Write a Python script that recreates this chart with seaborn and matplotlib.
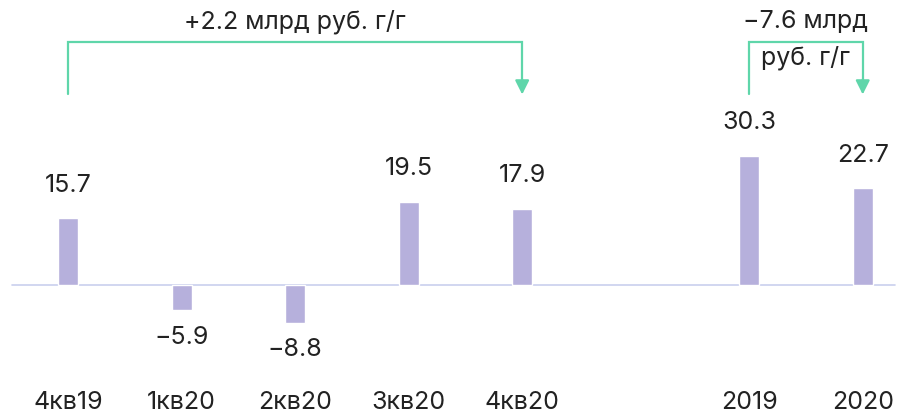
import matplotlib
matplotlib.use("Agg")
import matplotlib.pyplot as plt
import seaborn as sns
import pandas as pd

# data
periods = ["4кв19", "1кв20", "2кв20", "3кв20", "4кв20", "2019", "2020"]
values = [15.7, -5.9, -8.8, 19.5, 17.9, 30.3, 22.7]
slot_order = ["4кв19", "1кв20", "2кв20", "3кв20", "4кв20", "", "2019", "2020"]
brackets = [
    ("4кв19", "4кв20", "+2.2 млрд руб. г/г"),
    ("2019", "2020", "−7.6 млрд\nруб. г/г"),
]

BAR = "#b6b0dc"
ARROW = "#5fd6aa"
TEXT = "#222222"
FS = 18

sns.set_theme(style="white")
plt.rcParams["font.family"] = ["Inter", "DejaVu Sans"]

df = pd.DataFrame({"period": periods, "value": values})

fig = plt.figure(figsize=(9.07, 4.18), dpi=100)
ax = fig.add_axes([0, 0.1, 1, 0.9])

sns.barplot(data=df, x="period", y="value", order=slot_order, color=BAR,
            width=0.175, saturation=1, ax=ax)

ax.set_xlim(-0.6, 7.39)
ax.set_ylim(-21.3, 66.7)
ax.axhline(0, xmin=0.013, xmax=0.987, color="#c9d0ee", lw=1.2, zorder=0)

for s in ax.spines.values():
    s.set_visible(False)
ax.set_yticks([])
ax.set_xlabel("")
ax.set_ylabel("")
ax.tick_params(axis="x", length=0, pad=11, labelsize=FS, labelcolor=TEXT)

# value labels
for i, (p, v) in enumerate(zip(periods, values)):
    x = slot_order.index(p)
    off = 33 if v >= 0 else -27
    ax.annotate(f"{v:.1f}".replace("-", "−"), (x, v), xytext=(0, off),
                textcoords="offset pixels", ha="center", va="center",
                fontsize=FS, color=TEXT)

# change brackets
y_top, y_low = 56.9, 44.6
for a, b, label in brackets:
    xa, xb = slot_order.index(a), slot_order.index(b)
    ax.plot([xa, xa, xb, xb], [y_low, y_top, y_top, y_low + 3], color=ARROW,
            lw=1.6, solid_joinstyle="miter")
    ax.annotate("", xy=(xb, y_low), xytext=(xb, y_low + 3.5),
                arrowprops=dict(arrowstyle="-|>,head_length=0.7,head_width=0.35",
                                color=ARROW, lw=1.6, shrinkA=0, shrinkB=0))
    if "\n" in label:
        top, bottom = label.split("\n")
        ax.text((xa + xb) / 2, 61.6, top, ha="center", va="center",
                fontsize=FS, color=TEXT)
        ax.text((xa + xb) / 2, 53.2, bottom, ha="center", va="center",
                fontsize=FS, color=TEXT)
    else:
        ax.text((xa + xb) / 2, 61.6, label, ha="center", va="center",
                fontsize=FS, color=TEXT)

fig.savefig("out.png", dpi=100)
